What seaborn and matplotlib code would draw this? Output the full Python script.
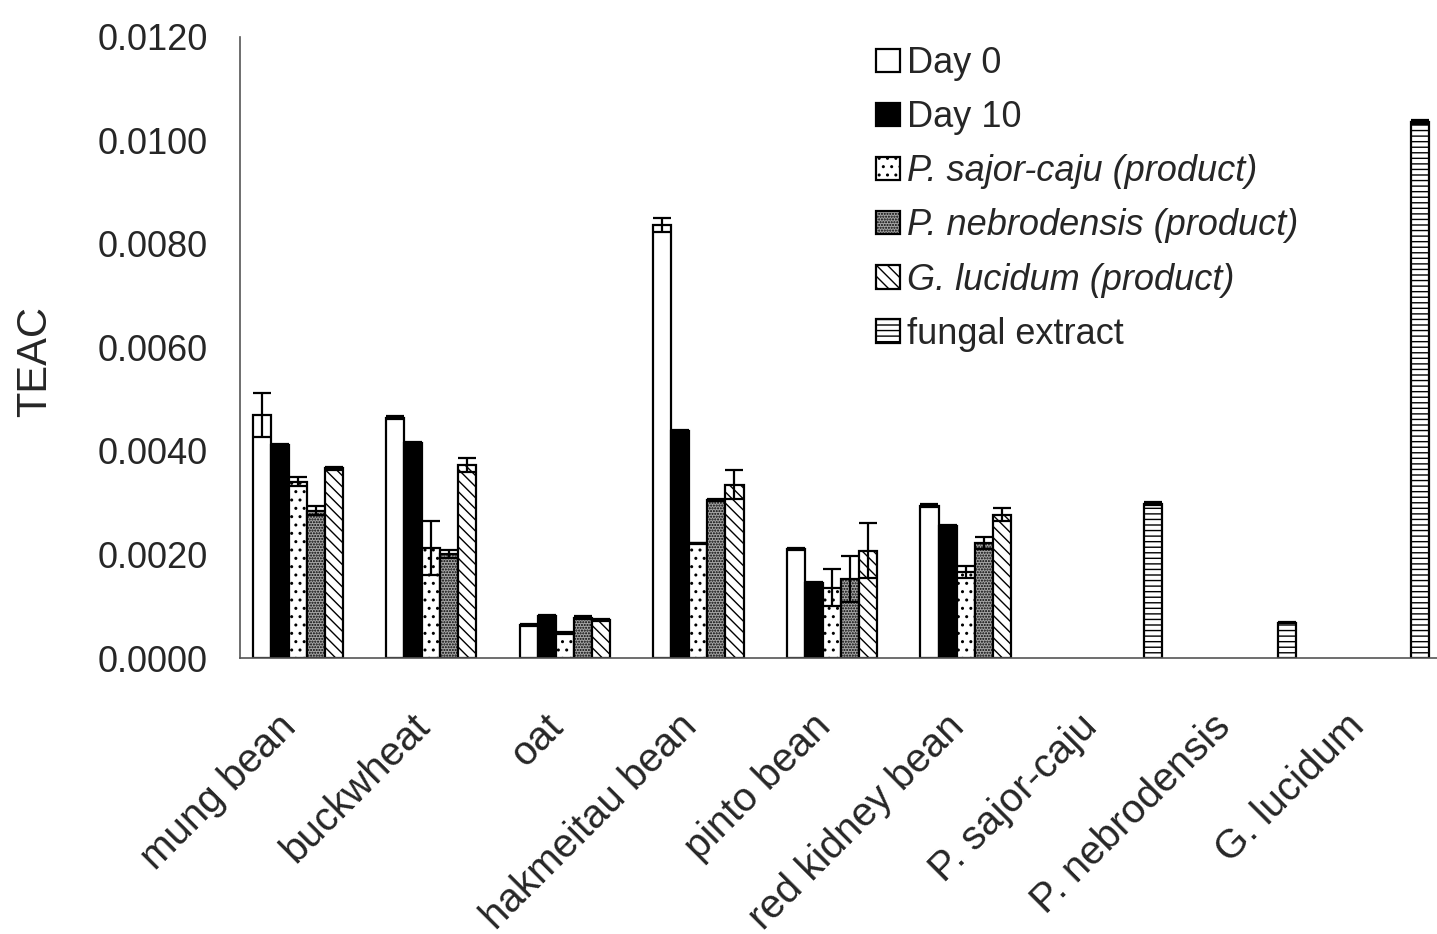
import numpy as np
import pandas as pd
import matplotlib
matplotlib.use("Agg")
import matplotlib.pyplot as plt
import seaborn as sns

# ---- data -------------------------------------------------------------
categories = ["mung bean", "buckwheat", "oat", "hakmeitau bean", "pinto bean",
              "red kidney bean", "P. sajor-caju", "P. nebrodensis", "G. lucidum"]

series_names = ["Day 0", "Day 10", "P. sajor-caju (product)",
                "P. nebrodensis (product)", "G. lucidum (product)", "fungal extract"]

nan = np.nan
day0 = [0.00470, 0.00464, 0.00064, 0.00837, 0.00211, 0.00294, nan, nan, nan]
day0_err = [0.00042, 0.00003, 0.00002, 0.00013, 0.00002, 0.00003, nan, nan, nan]

day10 = [0.00412, 0.00416, 0.00081, 0.00439, 0.00145, 0.00255, nan, nan, nan]
day10_err = [0.00002, 0.00002, 0.00002, 0.00002, 0.00002, 0.00002, nan, nan, nan]

sajor = [0.00341, 0.00213, 0.00048, 0.00222, 0.00136, 0.00166, nan, nan, nan]
sajor_err = [0.00008, 0.00052, 0.00002, 0.00001, 0.00036, 0.00012, nan, nan, nan]

nebro = [0.00285, 0.00201, 0.00078, 0.00306, 0.00153, 0.00222, nan, nan, nan]
nebro_err = [0.00008, 0.00007, 0.00003, 0.00002, 0.00044, 0.00011, nan, nan, nan]

lucid = [0.00367, 0.00373, 0.00073, 0.00335, 0.00207, 0.00277, nan, nan, nan]
lucid_err = [0.00003, 0.00013, 0.00002, 0.00028, 0.00053, 0.00012, nan, nan, nan]

fungal = [nan, nan, nan, nan, nan, nan, 0.00298, 0.00068, 0.01035]
fungal_err = [nan, nan, nan, nan, nan, nan, 0.00003, 0.00001, 0.00004]

values = [day0, day10, sajor, nebro, lucid, fungal]
errors = [day0_err, day10_err, sajor_err, nebro_err, lucid_err, fungal_err]

y_ticks = [0.0, 0.002, 0.004, 0.006, 0.008, 0.010, 0.012]

# ---- long table for seaborn ------------------------------------------
rows = []
for s, vals, errs in zip(series_names, values, errors):
    for c, v, e in zip(categories, vals, errs):
        if not np.isnan(v):
            rows.append({"category": c, "series": s, "value": v, "err": e})
df = pd.DataFrame(rows)

# ---- style -------------------------------------------------------------
sns.set_theme(style="white")
plt.rcParams["font.family"] = ["Liberation Sans", "DejaVu Sans"]
plt.rcParams["hatch.linewidth"] = 1.0

faces = {"Day 0": "white", "Day 10": "black",
         "P. sajor-caju (product)": "white",
         "P. nebrodensis (product)": "#a6a6a6",
         "G. lucidum (product)": "white", "fungal extract": "white"}
hatches = {"Day 0": None, "Day 10": None,
           "P. sajor-caju (product)": "..",
           "P. nebrodensis (product)": "......",
           "G. lucidum (product)": "\\\\\\",
           "fungal extract": "---"}

fig = plt.figure(figsize=(14.37, 9.34), dpi=100)
ax = fig.add_axes([0.167, 0.2955, 0.8365, 0.6649])

sns.barplot(data=df, x="category", y="value", hue="series",
            order=categories, hue_order=series_names, palette=faces,
            errorbar=None, width=0.81, edgecolor="black", linewidth=1.6,
            legend=False, ax=ax)

bar_containers = list(ax.containers)

# patterns and error bars per series
err_lookup = {(r.series, categories.index(r.category)): r.err for r in df.itertuples()}
for cont, s in zip(bar_containers, series_names):
    xs, ys, es = [], [], []
    for p in cont.patches:
        p.set_facecolor(faces[s])
        p.set_edgecolor("black")
        if hatches[s]:
            p.set_hatch(hatches[s])
        cx = p.get_x() + p.get_width() / 2
        idx = int(round(cx))
        xs.append(cx)
        ys.append(p.get_height())
        es.append(err_lookup[(s, idx)])
    ax.errorbar(xs, ys, yerr=es, fmt="none", ecolor="black",
                elinewidth=1.6, capsize=6.5, capthick=1.6, zorder=5)

# ---- axes --------------------------------------------------------------
ax.set_xlim(-0.5, len(categories) - 0.5)
ax.set_ylim(0, 0.012)
ax.set_yticks(y_ticks)
ax.set_yticklabels([f"{t:.4f}" for t in y_ticks], fontsize=26)
ax.set_ylabel("TEAC", fontsize=30)
ax.yaxis.set_label_coords(-0.154, 0.478)
ax.set_xlabel("")

# rotated category labels sit slightly left of each group's centre
ax.set_xticks(np.arange(len(categories)) - 0.125)
ax.set_xticklabels(categories, fontsize=29, rotation=45, ha="right",
                   va="center", rotation_mode="anchor")
ax.set_xticks(np.arange(-0.5, len(categories), 1.0), minor=True)
ax.tick_params(axis="x", which="major", length=0, pad=45)
ax.tick_params(axis="x", which="minor", direction="in", length=7,
               width=1.0, color="#555555")
ax.tick_params(axis="y", direction="in", length=7, width=1.0,
               color="#555555", pad=23)

for side in ("top", "right"):
    ax.spines[side].set_visible(False)
for side in ("left", "bottom"):
    ax.spines[side].set_color("#555555")
    ax.spines[side].set_linewidth(1.2)

# ---- legend ------------------------------------------------------------
handles = [cont.patches[0] for cont in bar_containers]
leg = ax.legend(handles, series_names, loc="upper left",
                bbox_to_anchor=(0.6096, 0.9507), bbox_transform=fig.transFigure,
                frameon=False, fontsize=26, handlelength=0.66, handleheight=0.62,
                handletextpad=0.2, labelspacing=0.53, borderpad=0, borderaxespad=0)
for t in leg.get_texts()[2:5]:
    t.set_fontstyle("italic")

fig.savefig("out.png", dpi=100, facecolor="white")
